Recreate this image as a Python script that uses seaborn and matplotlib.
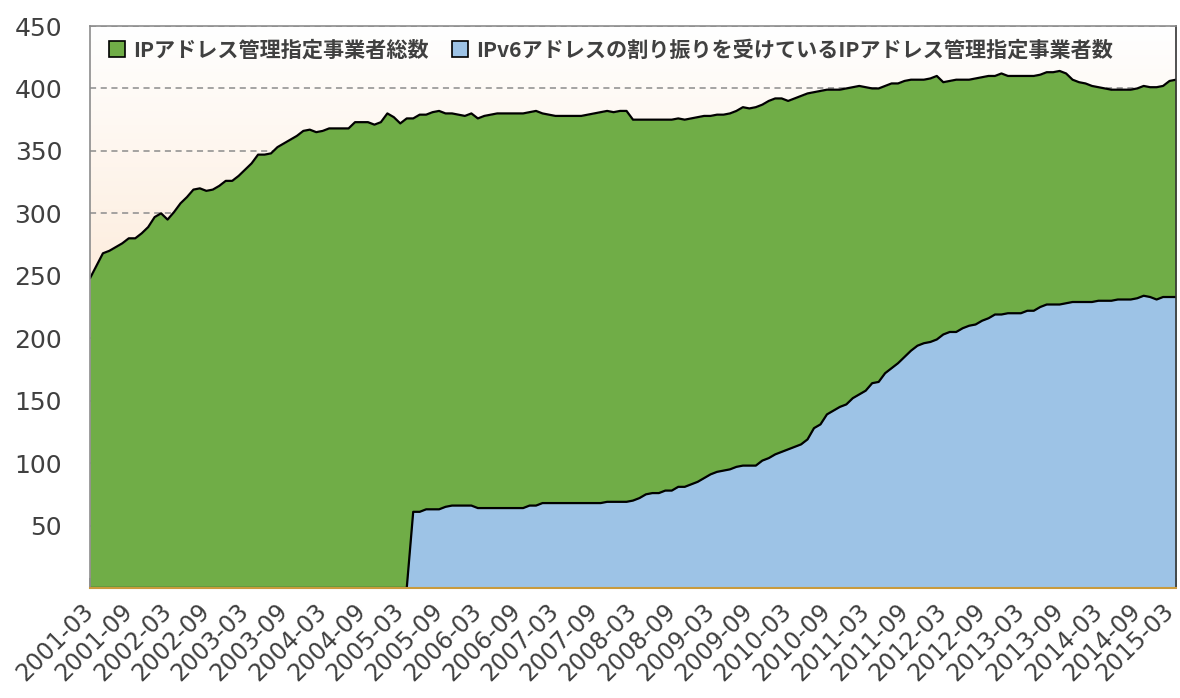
import matplotlib
matplotlib.use('Agg')
import matplotlib.pyplot as plt
import matplotlib.colors as mcolors
import matplotlib.transforms as mtransforms
from matplotlib.patches import Patch
import seaborn as sns
import numpy as np
import pandas as pd

# monthly values 2001-03 .. 2015-03
total = [
    248, 258, 268, 270, 273, 276, 280, 280, 284, 289,
    297, 300, 295, 301, 308, 313, 319, 320, 318, 319,
    322, 326, 326, 330, 335, 340, 347, 347, 348, 353,
    356, 359, 362, 366, 367, 365, 366, 368, 368, 368,
    368, 373, 373, 373, 371, 373, 380, 377, 372, 376,
    376, 379, 379, 381, 382, 380, 380, 379, 378, 380,
    376, 378, 379, 380, 380, 380, 380, 380, 381, 382,
    380, 379, 378, 378, 378, 378, 378, 379, 380, 381,
    382, 381, 382, 382, 375, 375, 375, 375, 375, 375,
    375, 376, 375, 376, 377, 378, 378, 379, 379, 380,
    382, 385, 384, 385, 387, 390, 392, 392, 390, 392,
    394, 396, 397, 398, 399, 399, 399, 400, 401, 402,
    401, 400, 400, 402, 404, 404, 406, 407, 407, 407,
    408, 410, 405, 406, 407, 407, 407, 408, 409, 410,
    410, 412, 410, 410, 410, 410, 410, 411, 413, 413,
    414, 412, 407, 405, 404, 402, 401, 400, 399, 399,
    399, 399, 400, 402, 401, 401, 402, 406, 407,
]
ipv6 = [0] * 50 + [
    61, 61, 63, 63, 63, 65, 66, 66, 66, 66,
    64, 64, 64, 64, 64, 64, 64, 64, 66, 66,
    68, 68, 68, 68, 68, 68, 68, 68, 68, 68,
    69, 69, 69, 69, 70, 72, 75, 76, 76, 78,
    78, 81, 81, 83, 85, 88, 91, 93, 94, 95,
    97, 98, 98, 98, 102, 104, 107, 109, 111, 113,
    115, 119, 128, 131, 139, 142, 145, 147, 152, 155,
    158, 164, 165, 172, 176, 180, 185, 190, 194, 196,
    197, 199, 203, 205, 205, 208, 210, 211, 214, 216,
    219, 219, 220, 220, 220, 222, 222, 225, 227, 227,
    227, 228, 229, 229, 229, 229, 230, 230, 230, 231,
    231, 231, 232, 234, 233, 231, 233, 233, 233,
]
months = [p.strftime('%Y-%m') for p in pd.period_range('2001-03', '2015-03', freq='M')]
labels = ['IPアドレス管理指定事業者総数', 'IPv6アドレスの割り振りを受けているIPアドレス管理指定事業者数']
colors = ['#70AD47', '#9DC3E6']

df = pd.DataFrame({'idx': np.arange(len(months)), 'month': months, 'total': total, 'ipv6': ipv6})

sns.set_theme(style='white')
txt = '#404040'

fig = plt.figure(figsize=(11.8, 6.98), dpi=100)
ax = fig.add_axes([90 / 1180, 1 - 588 / 698, 1086 / 1180, (588 - 26) / 698])

# fundo em degradê
grad = np.linspace(0, 1, 256).reshape(-1, 1)
cmap = mcolors.LinearSegmentedColormap.from_list('bg', ['#F7C99B', '#FDEBDA', '#FFFFFF'])
ax.imshow(grad, extent=[0, 1, 0, 1], transform=ax.transAxes, cmap=cmap,
          aspect='auto', origin='lower', zorder=0)

# grade
for v in range(50, 451, 50):
    ax.axhline(v, color='#8C8C8C', lw=1.1, ls=(0, (4, 3)), zorder=1)

ax.fill_between(df['idx'], df['total'], color=colors[0], zorder=2, lw=0)
ax.fill_between(df['idx'], df['ipv6'], color=colors[1], zorder=3, lw=0)
sns.lineplot(data=df, x='idx', y='total', color='black', lw=1.6, ax=ax, zorder=4)
sns.lineplot(data=df, x='idx', y='ipv6', color='black', lw=1.6, ax=ax, zorder=4)

ax.set_xlim(0, len(months) - 1)
ax.set_ylim(0, 450)
ax.set_xlabel('')
ax.set_ylabel('')

ax.set_yticks(range(50, 451, 50))
ax.set_yticklabels([str(v) for v in range(50, 451, 50)], fontsize=18, color=txt,
                   family='DejaVu Sans')
ax.tick_params(axis='y', length=0, pad=20)

ax.set_xticks(range(0, len(months), 6))
ax.set_xticks(range(len(months)), minor=True)
ax.set_xticklabels(months[::6], rotation=45, ha='right', va='center', rotation_mode='anchor',
                   fontsize=17, color=txt, family='DejaVu Sans')
ax.tick_params(axis='x', which='major', direction='in', length=7, width=1.2,
               color='#8C8C8C', pad=14, bottom=True)
ax.tick_params(axis='x', which='minor', direction='in', length=4, width=1,
               color='#8C8C8C', bottom=True)
# last label nudged so it stays inside the picture
last = ax.get_xticklabels()[-1]
last.set_transform(last.get_transform() + mtransforms.ScaledTranslation(-6 / 100, 0, fig.dpi_scale_trans))

for s in ['top', 'left', 'right']:
    ax.spines[s].set_color('#8C8C8C')
    ax.spines[s].set_linewidth(1.2)
ax.spines['right'].set_color('#333333')
ax.spines['bottom'].set_color('#C99A3C')
ax.spines['bottom'].set_linewidth(1.5)
for s in ax.spines.values():
    s.set_zorder(5)

handles = [Patch(facecolor=c, edgecolor='black', lw=1.2) for c in colors]
leg = ax.legend(handles, labels, loc='upper left', bbox_to_anchor=(0.0, 1.01), ncol=2,
                frameon=False, handlelength=0.75, handleheight=0.75, handletextpad=0.4,
                columnspacing=1.1,
                prop={'family': ['Noto Sans CJK JP', 'DejaVu Sans'], 'weight': 'bold', 'size': 15.2})
for t in leg.get_texts():
    t.set_color(txt)
leg.set_zorder(6)

fig.savefig('out.png', dpi=100)
